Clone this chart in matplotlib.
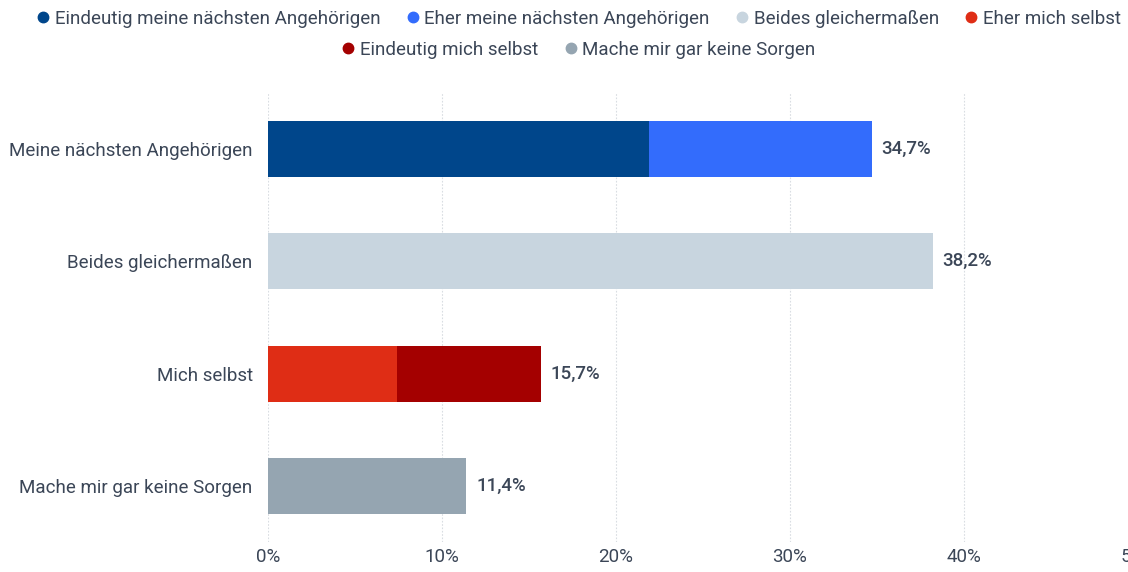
import numpy as np
import matplotlib.pyplot as plt
from matplotlib.lines import Line2D

plt.rcParams['font.family'] = ['Roboto', 'DejaVu Sans']

# Data (percent)
categories = ['Meine nächsten Angehörigen', 'Beides gleichermaßen', 'Mich selbst', 'Mache mir gar keine Sorgen']
series_names = ['Eindeutig meine nächsten Angehörigen', 'Eher meine nächsten Angehörigen',
                'Beides gleichermaßen', 'Eher mich selbst', 'Eindeutig mich selbst',
                'Mache mir gar keine Sorgen']
eindeutig_angehoerige = [21.9, 0, 0, 0]
eher_angehoerige = [12.8, 0, 0, 0]
beides = [0, 38.2, 0, 0]
eher_selbst = [0, 0, 7.4, 0]
eindeutig_selbst = [0, 0, 8.3, 0]
keine_sorgen = [0, 0, 0, 11.4]
total_labels = ['34,7%', '38,2%', '15,7%', '11,4%']
x_ticks = [0, 10, 20, 30, 40, 50]

colors = ['#00468b', '#336cfc', '#c8d5df', '#df2d15', '#a40000', '#95a5b1']
text_color = '#3b4657'
fs = 13.5

fig = plt.figure(figsize=(11.28, 5.72), dpi=100)
ax = fig.add_axes([268 / 1128, 30 / 572, 870 / 1128, 449 / 572])

y = np.arange(len(categories))
left = np.zeros(len(categories))
all_series = [eindeutig_angehoerige, eher_angehoerige, beides, eher_selbst, eindeutig_selbst, keine_sorgen]
for vals, col in zip(all_series, colors):
    vals = np.array(vals, dtype=float)
    ax.barh(y, vals, left=left, height=0.5, color=col, linewidth=0, zorder=2)
    left += vals

# value labels at bar ends
for yi, tot, lab in zip(y, left, total_labels):
    ax.annotate(lab, (tot, yi), xytext=(7, 0), textcoords='offset points',
                va='center', ha='left', fontsize=fs, color=text_color, fontweight='medium')

ax.set_xlim(0, 50)
ax.set_ylim(3.5, -0.5)
ax.set_yticks(y)
ax.set_yticklabels(categories, fontsize=fs, color=text_color)
ax.set_xticks(x_ticks)
ax.set_xticklabels([f'{t}%' for t in x_ticks], fontsize=fs, color=text_color)
ax.tick_params(axis='both', length=0)
ax.tick_params(axis='y', pad=11)
ax.tick_params(axis='x', pad=4)
for s in ax.spines.values():
    s.set_visible(False)
ax.grid(axis='x', color='#d9dde2', linestyle=(0, (1.5, 1.5)), linewidth=0.8, zorder=0)
ax.set_axisbelow(True)

# legend in two centred rows
handles = [Line2D([], [], marker='o', linestyle='none', markersize=7.5,
                  markerfacecolor=c, markeredgecolor=c) for c in colors]
leg_kw = dict(loc='center', frameon=False, fontsize=fs, handletextpad=0.2, columnspacing=1.3,
              handlelength=0.85, borderpad=0)
leg1 = fig.legend(handles[:4], series_names[:4], bbox_to_anchor=(578 / 1128, 1 - 19 / 572), ncol=4, **leg_kw)
leg2 = fig.legend(handles[4:], series_names[4:], bbox_to_anchor=(578 / 1128, 1 - 50 / 572), ncol=2, **leg_kw)
for leg in (leg1, leg2):
    for t in leg.get_texts():
        t.set_color(text_color)

fig.savefig('out.png', dpi=100)
